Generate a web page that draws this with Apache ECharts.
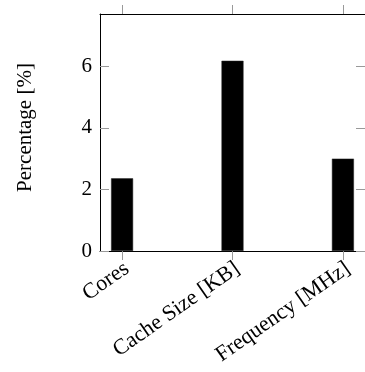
<!DOCTYPE html>
<html>
<head>
<meta charset="utf-8">
<script src="https://cdn.jsdelivr.net/npm/echarts@6/dist/echarts.min.js"></script>
<style>html,body{margin:0;padding:0;background:#fff}#c{width:365px;height:372px}</style>
</head>
<body>
<div id="c"></div>
<script>
const categories = ['Cores', 'Cache Size [KB]', 'Frequency [MHz]'];
const values = [2.36, 6.18, 3.0];
const yTicks = [0, 2, 4, 6];
const yName = 'Percentage [%]';

const FONT = 'Liberation Serif';
const catIdx = categories.map((_, i) => i);
const chart = echarts.init(document.getElementById('c'), null, {renderer: 'canvas'});
const tickStyle = {color: '#999', width: 1};
const lineStyle = {color: '#000', width: 1};
chart.setOption({
  animation: false,
  grid: {left: 100, top: 14, bottom: 121, right: -3.5, containLabel: false},
  xAxis: [{
    type: 'value', position: 'bottom', min: -0.2, max: 2.2,
    axisLine: {show: true, onZero: false, lineStyle: lineStyle},
    axisTick: {show: true, inside: false, length: 9, customValues: catIdx, lineStyle: tickStyle},
    axisLabel: {show: true, customValues: catIdx, rotate: 35, margin: 19, padding: [0, -6, 0, 0],
      formatter: v => categories[Math.round(v)] || '',
      fontFamily: FONT, fontSize: 22, color: '#000'},
    splitLine: {show: false}
  }, {
    type: 'value', position: 'top', min: -0.2, max: 2.2,
    axisLine: {show: true, onZero: false, lineStyle: lineStyle},
    axisTick: {show: true, inside: false, length: 9, customValues: catIdx, lineStyle: tickStyle},
    axisLabel: {show: false},
    splitLine: {show: false}
  }],
  yAxis: [{
    type: 'value', position: 'left', min: 0, max: 7.7,
    name: yName, nameLocation: 'middle', nameGap: 64, nameRotate: 90,
    nameTextStyle: {fontFamily: FONT, fontSize: 21, color: '#000', padding: [0, 0, 0, 10]},
    axisLine: {show: true, onZero: false, lineStyle: lineStyle},
    axisTick: {show: true, inside: true, length: 9, customValues: yTicks, lineStyle: tickStyle},
    axisLabel: {show: true, customValues: yTicks, margin: 8, fontFamily: FONT, fontSize: 21, color: '#000'},
    splitLine: {show: false}
  }, {
    type: 'value', position: 'right', min: 0, max: 7.7,
    axisLine: {show: true, onZero: false, lineStyle: lineStyle},
    axisTick: {show: true, inside: true, length: 9, customValues: yTicks, lineStyle: tickStyle},
    axisLabel: {show: false},
    splitLine: {show: false}
  }],
  series: [{
    type: 'bar', xAxisIndex: 0, yAxisIndex: 0, barWidth: 22,
    itemStyle: {color: '#000', borderColor: '#222', borderWidth: 0.5},
    data: values.map((v, i) => [i, v])
  }]
});
</script>
</body>
</html>
